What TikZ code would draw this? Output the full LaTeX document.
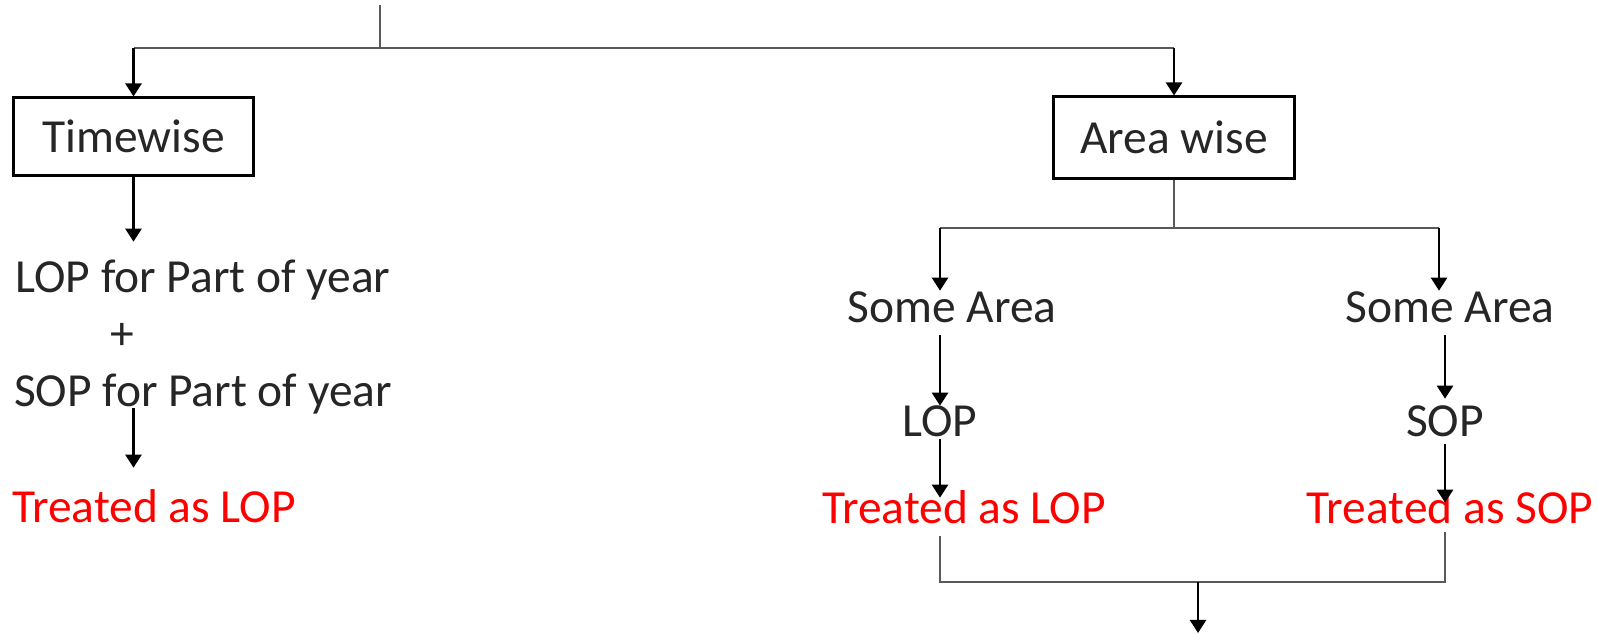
\documentclass[tikz,border=0pt]{standalone}
\usepackage{fontspec}
\setmainfont{Carlito}
\usetikzlibrary{arrows.meta}

\begin{document}
\begin{tikzpicture}[x=0.01cm,y=-0.01cm,font=\fontsize{13.5pt}{16pt}\selectfont,
        box/.style={draw,line width=0.85pt,text=black!85},
        txt/.style={anchor=base,inner sep=0pt,text height=0.7em,text depth=0.2em,text=black!85},
        redtxt/.style={txt,text=red},
        arr/.style={-{Triangle[length=1.3mm,width=1.6mm]},line width=0.7pt},
        gline/.style={line width=0.6pt,draw=black!65}]
        \useasboundingbox (0,0) rectangle (1598,634);
        \node[box,minimum width=2.39cm,minimum height=0.77cm] (time) at (133.5,136.5) {Timewise};
        \node[box,minimum width=2.40cm,minimum height=0.81cm] (area) at (1174,137.5) {Area wise};
        \node[txt] (lop_1) at (203,292) {LOP for Part of year};
        \node[txt] (plus) at (122,350) {+};
        \node[txt] (sop_1) at (203,406) {SOP for Part of year};
        \node[redtxt] (treat_1) at (154,522) {Treated as LOP};
        \node[txt] (some_1) at (952,323) {Some Area};
        \node[txt] (some_2) at (1450,323) {Some Area};
        \node[txt] (lop_2) at (940,436) {LOP};
        \node[txt] (sop_2) at (1445,436) {SOP};
        \node[redtxt] (treat_2) at (964,523) {Treated as LOP};
        \node[redtxt] (treat_3) at (1450,523) {Treated as SOP};
        \coordinate (top) at (380,5);
        \coordinate (split) at (380,48);
        \coordinate (fork) at (1174,228);
        \coordinate (fork_l) at (940,228);
        \coordinate (fork_r) at (1439,228);
        \coordinate (join) at (1198,582);
        \coordinate (out) at (1198,633);
        \draw[gline] (top) -- (split);
        \draw[gline] (time.north |- split) -- (area.north |- split);
        \draw[gline] (area.south) -- (fork);
        \draw[gline] (fork_l) -- (fork_r);
        \draw[gline,shorten <=0.05cm,shorten >=0.01cm] (treat_2.south -| lop_2) -- (lop_2 |- join)
        -- (sop_2 |- join) -- (treat_3.south -| sop_2);
        \path[arr]
        (time.north |- split)
        edge (time.north)
        (area.north |- split)
        edge (area.north)
        (time.south)
        edge [shorten >=0.25cm] (time.south |- lop_1.north)
        (time.south |- sop_1.base)
        edge [shorten <=0.02cm,shorten >=0.29cm] (time.south |- treat_1.north)
        (fork_l)
        edge [shorten >=0.07cm] (fork_l |- some_1.north)
        (fork_r)
        edge [shorten >=0.07cm] (fork_r |- some_2.north)
        (some_1.south -| lop_2)
        edge [shorten <=0.04cm,shorten >=0.05cm] (lop_2.north)
        (some_2.south -| sop_2)
        edge [shorten <=0.04cm,shorten >=0.12cm] (sop_2.north)
        (lop_2.south)
        edge [shorten <=-0.05cm] (lop_2 |- treat_2.north)
        (sop_2.south)
        edge [shorten >=-0.05cm] (sop_2 |- treat_3.north)
        (join)
        edge (out);
\end{tikzpicture}
\end{document}
